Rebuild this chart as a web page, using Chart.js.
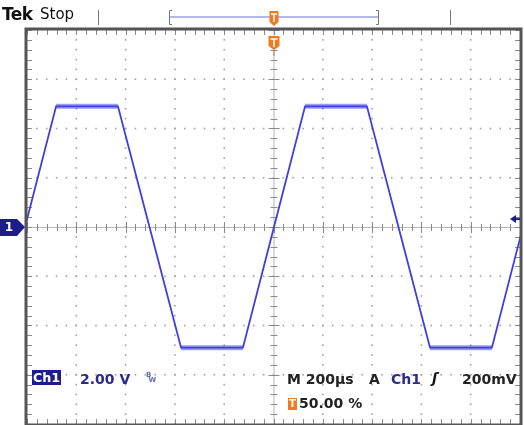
<!DOCTYPE html>
<html>
<head>
<meta charset="utf-8">
<script src="https://cdn.jsdelivr.net/npm/chart.js@4.4.1/dist/chart.umd.min.js"></script>
<style>
  html,body{margin:0;padding:0;background:#fff;}
  #wrap{position:relative;width:524px;height:425px;overflow:hidden;}
  canvas{position:absolute;left:0;top:0;}
  .t{position:absolute;white-space:nowrap;font-family:"DejaVu Sans",sans-serif;line-height:1;}
</style>
</head>
<body>
<div id="wrap">
<canvas id="c" width="524" height="425"></canvas>
<div class="t" style="left:2px;top:6px;font-size:17px;font-weight:bold;color:#111;letter-spacing:-0.5px;">Tek</div>
<div class="t" style="left:40px;top:7px;font-size:15px;color:#111;">Stop</div>
<div class="t" style="left:32px;top:370px;width:29px;height:15px;background:#1c1c8c;color:#fff;font-size:12.5px;font-weight:bold;text-align:center;line-height:15px;">Ch1</div>
<div class="t" style="left:80px;top:372px;font-size:14px;font-weight:bold;color:#2a2a8a;">2.00 V</div>
<div class="t" style="left:146px;top:373px;font-size:7px;font-weight:bold;color:#6a6ab4;line-height:5px;">B<br>&nbsp;W</div>
<div class="t" style="left:287px;top:372px;font-size:14px;font-weight:bold;color:#222;">M 200µs</div>
<div class="t" style="left:369px;top:372px;font-size:14px;font-weight:bold;color:#222;">A</div>
<div class="t" style="left:391px;top:372px;font-size:14px;font-weight:bold;color:#2a2a8a;">Ch1</div>
<div class="t" style="left:432px;top:371px;font-size:14px;font-weight:bold;color:#111;font-style:italic;">ʃ</div>
<div class="t" style="left:462px;top:372px;font-size:14px;font-weight:bold;color:#222;">200mV</div>
<div class="t" style="left:288px;top:398px;width:9px;height:12px;background:#f07a1e;color:#fff;font-size:10px;font-weight:bold;text-align:center;line-height:12px;">T</div>
<div class="t" style="left:299px;top:396px;font-size:14px;font-weight:bold;color:#222;">50.00 %</div>
</div>
<script>
// Time axis in microseconds (200 µs/div, 10 div), voltage in volts (2 V/div, 8 div)
const timeUs = [-8, 118, 369, 497, 625, 876, 1002, 1128, 1379, 1507, 1635, 1886, 2012];
const ch1Volts = [0, 4.9, 4.9, 0, -4.9, -4.9, 0, 4.9, 4.9, 0, -4.9, -4.9, 0];
const xRange = [0, 2000];
const yRange = [-8, 8];
const xDivUs = 200;
const yDivV = 2;
const triggerLevelV = 0.2;

const tracePts = timeUs.map((t, i) => ({x: t, y: ch1Volts[i]}));
// plateau band (noise thickness) – only flat segments of the same data
const bandPts = timeUs.map((t, i) => {
  const v = ch1Volts[i];
  const flat = (i > 0 && ch1Volts[i-1] === v && v !== 0) || (i < ch1Volts.length-1 && ch1Volts[i+1] === v && v !== 0);
  return {x: t, y: flat ? v : null};
});

const graticule = {
  id: 'graticule',
  beforeDatasetsDraw(chart) {
    const {ctx, chartArea: a, scales: {x, y}} = chart;
    ctx.save();
    const minorX = xDivUs / 5, minorY = yDivV / 5;
    ctx.fillStyle = '#a0a0a0';
    for (let t = xRange[0] + xDivUs; t < xRange[1]; t += xDivUs) {
      if (t === 1000) continue;
      const px = x.getPixelForValue(t);
      for (let v = yRange[0]; v <= yRange[1] + 1e-9; v += minorY) {
        const py = y.getPixelForValue(v);
        ctx.fillRect(px - 0.8, py - 0.8, 1.6, 1.6);
      }
    }
    for (let v = yRange[0] + yDivV; v < yRange[1]; v += yDivV) {
      if (Math.abs(v) < 1e-9) continue;
      const py = y.getPixelForValue(v);
      for (let t = xRange[0]; t <= xRange[1] + 1e-9; t += minorX) {
        const px = x.getPixelForValue(t);
        ctx.fillRect(px - 0.8, py - 0.8, 1.6, 1.6);
      }
    }
    const cx = x.getPixelForValue(1000), cy = y.getPixelForValue(0);
    ctx.strokeStyle = '#b8b8b8';
    ctx.lineWidth = 1;
    ctx.beginPath();
    ctx.moveTo(a.left, cy + 0.5); ctx.lineTo(a.right, cy + 0.5);
    ctx.moveTo(cx + 0.5, a.top); ctx.lineTo(cx + 0.5, a.bottom);
    ctx.stroke();
    ctx.strokeStyle = '#8a8a8a';
    ctx.beginPath();
    let k = 0;
    for (let t = xRange[0]; t <= xRange[1] + 1e-9; t += minorX, k++) {
      const px = Math.round(x.getPixelForValue(t)) + 0.5;
      const len = (k % 5 === 0) ? 5 : 3;
      ctx.moveTo(px, cy - len); ctx.lineTo(px, cy + len + 1);
      ctx.moveTo(px, a.top); ctx.lineTo(px, a.top + 5);
      ctx.moveTo(px, a.bottom); ctx.lineTo(px, a.bottom - 5);
    }
    k = 0;
    for (let v = yRange[0]; v <= yRange[1] + 1e-9; v += minorY, k++) {
      const py = Math.round(y.getPixelForValue(v)) + 0.5;
      const len = (k % 5 === 0) ? 5 : 3;
      ctx.moveTo(cx - len, py); ctx.lineTo(cx + len + 1, py);
      ctx.moveTo(a.left, py); ctx.lineTo(a.left + 5, py);
      ctx.moveTo(a.right, py); ctx.lineTo(a.right - 5, py);
    }
    ctx.stroke();
    ctx.restore();
  },
  afterDraw(chart) {
    const {ctx, chartArea: a, scales: {x, y}} = chart;
    ctx.save();
    ctx.strokeStyle = '#555';
    ctx.lineWidth = 3;
    ctx.strokeRect(a.left - 1, a.top - 1, a.right - a.left + 2, a.bottom - a.top + 2);
    const cx = x.getPixelForValue(1000), cy = y.getPixelForValue(0);
    ctx.strokeStyle = '#b4b8e6';
    ctx.lineWidth = 2;
    ctx.beginPath(); ctx.moveTo(170, 17); ctx.lineTo(378, 17); ctx.stroke();
    ctx.strokeStyle = '#777';
    ctx.lineWidth = 1;
    ctx.beginPath();
    ctx.moveTo(98.5, 10); ctx.lineTo(98.5, 25);
    ctx.moveTo(450.5, 10); ctx.lineTo(450.5, 25);
    ctx.moveTo(172, 10.5); ctx.lineTo(169.5, 10.5); ctx.lineTo(169.5, 24.5); ctx.lineTo(172, 24.5);
    ctx.moveTo(376, 10.5); ctx.lineTo(378.5, 10.5); ctx.lineTo(378.5, 24.5); ctx.lineTo(376, 24.5);
    ctx.stroke();
    ctx.fillStyle = '#f07a1e';
    ctx.beginPath();
    ctx.moveTo(cx - 4, 11); ctx.lineTo(cx + 5, 11); ctx.lineTo(cx + 5, 22); ctx.lineTo(cx + 0.5, 26); ctx.lineTo(cx - 4, 22);
    ctx.closePath(); ctx.fill();
    ctx.beginPath();
    ctx.moveTo(cx - 5, 36); ctx.lineTo(cx + 6, 36); ctx.lineTo(cx + 6, 46); ctx.lineTo(cx + 0.5, 50); ctx.lineTo(cx - 5, 46);
    ctx.closePath(); ctx.fill();
    ctx.strokeStyle = '#888';
    ctx.beginPath(); ctx.moveTo(cx + 0.5, 50); ctx.lineTo(cx + 0.5, 56); ctx.stroke();
    ctx.strokeStyle = '#fff';
    ctx.lineWidth = 1.5;
    ctx.beginPath();
    ctx.moveTo(cx - 2.5, 14); ctx.lineTo(cx + 3.5, 14); ctx.moveTo(cx + 0.5, 14); ctx.lineTo(cx + 0.5, 22);
    ctx.moveTo(cx - 3, 39); ctx.lineTo(cx + 4, 39); ctx.moveTo(cx + 0.5, 39); ctx.lineTo(cx + 0.5, 47);
    ctx.stroke();
    ctx.fillStyle = '#1c1c8c';
    ctx.beginPath();
    ctx.moveTo(0, cy - 8); ctx.lineTo(17, cy - 8); ctx.lineTo(25, cy); ctx.lineTo(17, cy + 9); ctx.lineTo(0, cy + 9);
    ctx.closePath(); ctx.fill();
    ctx.fillStyle = '#fff';
    ctx.font = 'bold 12px "DejaVu Sans"';
    ctx.textAlign = 'center'; ctx.textBaseline = 'middle';
    ctx.fillText('1', 9, cy + 1);
    const ty = y.getPixelForValue(triggerLevelV) - 3;
    ctx.fillStyle = '#1c1c8c';
    ctx.beginPath();
    ctx.moveTo(510, ty); ctx.lineTo(516, ty - 4); ctx.lineTo(516, ty + 4); ctx.closePath(); ctx.fill();
    ctx.strokeStyle = '#1c1c8c'; ctx.lineWidth = 2;
    ctx.beginPath(); ctx.moveTo(514, ty); ctx.lineTo(520, ty); ctx.stroke();
    ctx.restore();
  }
};

new Chart(document.getElementById('c'), {
  type: 'line',
  data: {
    datasets: [
      {data: bandPts, borderColor: 'rgba(60,60,225,0.5)', borderWidth: 5, pointRadius: 0, spanGaps: false, clip: 0, order: 2},
      {data: tracePts, borderColor: 'rgb(62,62,225)', borderWidth: 1.8, pointRadius: 0, tension: 0, clip: 0, order: 1}
    ]
  },
  options: {
    responsive: false,
    animation: false,
    devicePixelRatio: 1,
    layout: {padding: {left: 27, right: 4, top: 30, bottom: 1}},
    scales: {
      x: {type: 'linear', min: xRange[0], max: xRange[1], display: false},
      y: {type: 'linear', min: yRange[0], max: yRange[1], display: false}
    },
    plugins: {legend: {display: false}, tooltip: {enabled: false}}
  },
  plugins: [graticule]
});
</script>
</body>
</html>
